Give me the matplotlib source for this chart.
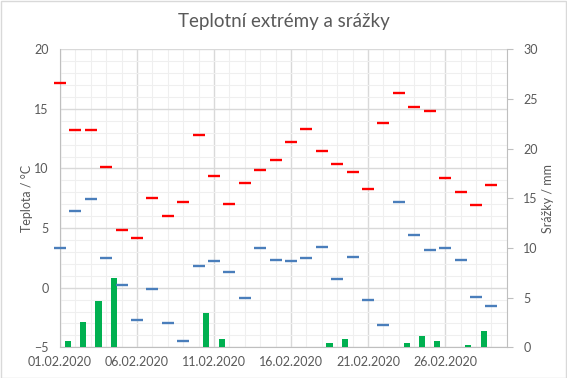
import numpy as np
import matplotlib.pyplot as plt
from matplotlib.ticker import MultipleLocator

plt.rcParams['font.family'] = ['Lato', 'DejaVu Sans']

# denni data, unor 2020
dny = np.arange('2020-02-01', '2020-03-01', dtype='datetime64[D]')
tmax = [17.2, 13.2, 13.2, 10.1, 4.8, 4.2, 7.5, 6.0, 7.2, 12.8,
        9.4, 7.0, 8.8, 9.9, 10.7, 12.2, 13.3, 11.5, 10.4, 9.7,
        8.3, 13.8, 16.3, 15.2, 14.8, 9.2, 8.0, 6.9, 8.6]
tmin = [3.3, 6.4, 7.4, 2.5, 0.2, -2.7, -0.1, -3.0, -4.5, 1.8,
        2.2, 1.3, -0.9, 3.3, 2.3, 2.2, 2.5, 3.4, 0.7, 2.6,
        -1.0, -3.1, 7.2, 4.4, 3.2, 3.3, 2.3, -0.8, -1.5]
srazky = [0.6, 2.5, 4.7, 7.0, 0, 0, 0, 0, 0, 3.5,
          0.8, 0, 0, 0, 0, 0, 0, 0.4, 0.8, 0,
          0, 0, 0.4, 1.1, 0.6, 0, 0.2, 1.6, 0]

seda = '#595959'
x = (dny - dny[0]).astype(float)   # dny od 1.2.
xt = np.arange(0, 29, 5)
xt_lab = [d.astype(object).strftime('%d.%m.%Y') for d in dny[xt]]

fig = plt.figure(figsize=(5.67, 3.78), dpi=100)
ax = fig.add_axes([0.1058, 0.0812, 0.7879, 0.7884])

# mrizka
ax.set_xlim(0, 29)
ax.set_ylim(-5, 20)
ax.xaxis.set_minor_locator(MultipleLocator(1))
ax.yaxis.set_major_locator(MultipleLocator(5))
ax.yaxis.set_minor_locator(MultipleLocator(1))
ax.grid(which='major', color='#D9D9D9', lw=1)
ax.grid(which='minor', color='#EFEFEF', lw=0.8)
ax.set_axisbelow(True)
ax.set_xticks(xt)
ax.set_xticklabels(xt_lab)
ax.tick_params(which='both', length=0, colors=seda, labelsize=9)
ax.tick_params(axis='x', pad=6)
ax.tick_params(axis='y', pad=8)
for s in ax.spines.values():
    s.set_visible(False)
ax.spines['left'].set_visible(True)
ax.spines['left'].set_color('#BFBFBF')
ax.spines['bottom'].set_visible(True)
ax.spines['bottom'].set_color('#BFBFBF')
ax.set_ylabel('Teplota / °C', color=seda, fontsize=9, labelpad=1)

# srazky
ax2 = ax.twinx()
ax2.bar(x + 0.5, srazky, width=0.4, color='#00B050', zorder=2)
ax2.set_ylim(0, 30)
ax2.yaxis.set_major_locator(MultipleLocator(5))
ax2.tick_params(axis='y', length=4, colors=seda, labelsize=9, pad=8)
ax2.tick_params(axis='y', color='#BFBFBF')
for s in ax2.spines.values():
    s.set_visible(False)
ax2.spines['right'].set_visible(True)
ax2.spines['right'].set_color('#BFBFBF')
ax2.set_ylabel('Srážky / mm', color=seda, fontsize=9, labelpad=3)

# teploty navrch
ax3 = ax.twinx()
ax3.set_ylim(-5, 20)
ax3.axis('off')
ax3.plot(x, tmax, ls='none', marker='_', ms=8.6, mew=1.7, color='#FF0000', clip_on=False)
ax3.plot(x, tmin, ls='none', marker='_', ms=8.6, mew=1.7, color='#4A7EBB', clip_on=False)
ax3.set_xlim(0, 29)

fig.suptitle('Teplotní extrémy a srážky', color=seda, fontsize=13.5, y=0.965)
fig.patches.append(plt.Rectangle((0.001, 0.001), 0.997, 0.997, transform=fig.transFigure,
                                 fill=False, ec='#D9D9D9', lw=1))

fig.savefig('out.png', dpi=100)
